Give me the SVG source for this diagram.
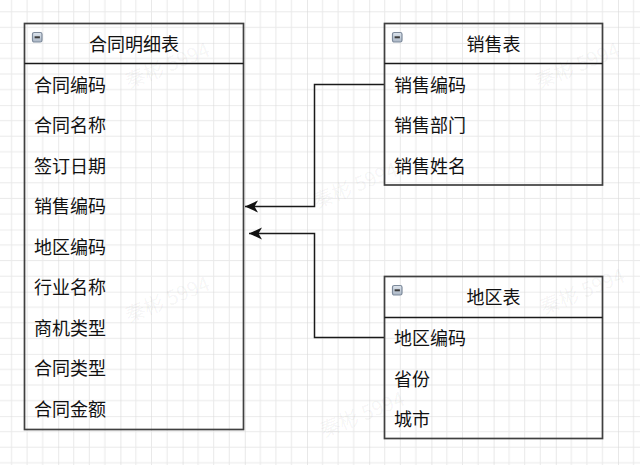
<svg xmlns="http://www.w3.org/2000/svg" width="640" height="465" viewBox="0 0 640 465">
  <defs>
    <pattern id="grid" patternUnits="userSpaceOnUse" x="58.2" y="42.9" width="62.2" height="62.2">
      <path d="M15.55 0V62.2M31.1 0V62.2M46.65 0V62.2M0 15.55H62.2M0 31.1H62.2M0 46.65H62.2" stroke="#e9e9e9" stroke-width="1" fill="none"/>
      <path d="M0 0V62.2M0 0H62.2" stroke="#d9d9d9" stroke-width="1.2" fill="none"/>
    </pattern>
    <linearGradient id="iconGrad" x1="0" y1="0" x2="0" y2="1">
      <stop offset="0" stop-color="#dfe6ee"/>
      <stop offset="1" stop-color="#aab6c5"/>
    </linearGradient>
    <marker id="arrow" markerUnits="userSpaceOnUse" markerWidth="14" markerHeight="14" viewBox="0 0 14 14" refX="13" refY="7" orient="auto">
      <path d="M0 1 L13 7 L0 13 L3.5 7 Z" fill="#111"/>
    </marker>
    <g id="minus">
      <rect x="0.5" y="0.5" width="9.5" height="9.5" rx="1.8" fill="url(#iconGrad)" stroke="#7d8a9b" stroke-width="1.2"/>
      <rect x="2.6" y="4.3" width="5.3" height="2" fill="#3c3c3c"/>
    </g>
  </defs>
  <style>
    .box { fill: none; stroke: #404040; stroke-width: 1.7; }
    .div { stroke: #1a1a1a; stroke-width: 1.5; }
    .t { font-family: "Noto Sans CJK SC", "Noto Sans", sans-serif; font-size: 18px; fill: #111111; }
    .title { text-anchor: middle; }
    .wm { font-family: "Noto Sans CJK SC", "Noto Sans", sans-serif; font-size: 20px; fill: #000; fill-opacity: 0.05; text-anchor: middle; }
    .conn { fill: none; stroke: #1a1a1a; stroke-width: 1.5; }
  </style>

  <rect width="640" height="465" fill="#ffffff"/>
  <rect width="640" height="465" fill="url(#grid)"/>

  <g id="watermarks">
    <text class="wm" transform="translate(170,72) rotate(-22)">秦彬 5994</text>
    <text class="wm" transform="translate(580,72) rotate(-22)">秦彬 5994</text>
    <text class="wm" transform="translate(358,192) rotate(-22)">秦彬 5994</text>
    <text class="wm" transform="translate(170,306) rotate(-22)">秦彬 5994</text>
    <text class="wm" transform="translate(585,298) rotate(-22)">秦彬 5994</text>
    <text class="wm" transform="translate(365,421) rotate(-22)">秦彬 5994</text>
  </g>

  <g id="connectors">
    <path class="conn" d="M384.5 84.5 H314.5 V206.5 H245" marker-end="url(#arrow)"/>
    <path class="conn" d="M384.5 337.5 H314.5 V233.5 H249" marker-end="url(#arrow)"/>
  </g>

  <g id="contract-detail">
    <rect class="box" x="24.5" y="23.5" width="219" height="406"/>
    <line class="div" x1="24.5" y1="63.5" x2="243.5" y2="63.5"/>
    <use href="#minus" x="32" y="32"/>
    <text class="t title" x="134" y="50.8">合同明细表</text>
    <text class="t" x="34" y="91.8">合同编码</text>
    <text class="t" x="34" y="132.3">合同名称</text>
    <text class="t" x="34" y="172.8">签订日期</text>
    <text class="t" x="34" y="213.3">销售编码</text>
    <text class="t" x="34" y="253.8">地区编码</text>
    <text class="t" x="34" y="294.3">行业名称</text>
    <text class="t" x="34" y="334.8">商机类型</text>
    <text class="t" x="34" y="375.3">合同类型</text>
    <text class="t" x="34" y="415.8">合同金额</text>
  </g>

  <g id="sales">
    <rect class="box" x="384.5" y="23.5" width="218" height="161.5"/>
    <line class="div" x1="384.5" y1="63.5" x2="602.5" y2="63.5"/>
    <use href="#minus" x="392" y="32"/>
    <text class="t title" x="493.5" y="50.8">销售表</text>
    <text class="t" x="394" y="91.8">销售编码</text>
    <text class="t" x="394" y="132.3">销售部门</text>
    <text class="t" x="394" y="172.8">销售姓名</text>
  </g>

  <g id="region">
    <rect class="box" x="384.5" y="276.5" width="218" height="162"/>
    <line class="div" x1="384.5" y1="317.5" x2="602.5" y2="317.5"/>
    <use href="#minus" x="392" y="285"/>
    <text class="t title" x="493.5" y="304.1">地区表</text>
    <text class="t" x="394" y="345.1">地区编码</text>
    <text class="t" x="394" y="385.6">省份</text>
    <text class="t" x="394" y="426.1">城市</text>
  </g>
</svg>
